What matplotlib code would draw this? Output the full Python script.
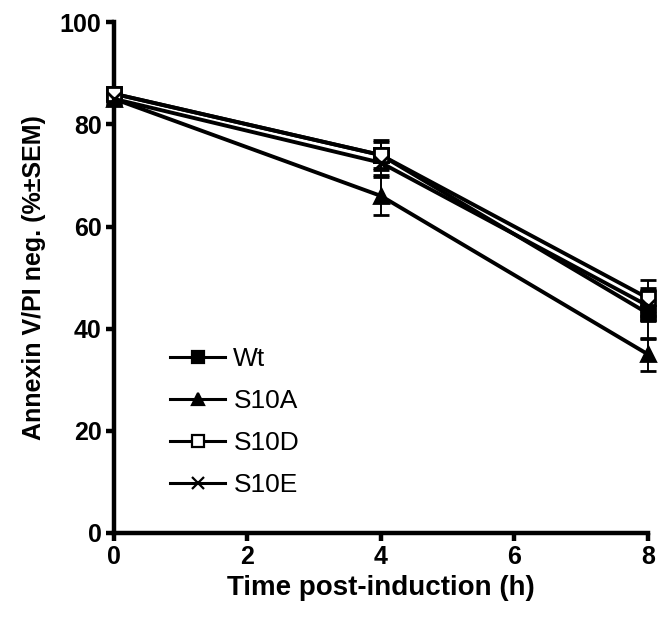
import matplotlib.pyplot as plt
from matplotlib.lines import Line2D

plt.rcParams['font.family'] = ['Liberation Sans', 'DejaVu Sans']

# time points (h)
time_h = [0, 4, 8]

# mean % Annexin V/PI negative and SEM
wt = [86, 74, 43]
wt_sem = [1.0, 2.5, 5.0]
s10a = [85, 66, 35]
s10a_sem = [1.0, 3.7, 3.2]
s10d = [86, 74, 46]
s10d_sem = [1.0, 3.0, 3.5]
s10e = [85, 72.5, 44.5]
s10e_sem = [1.0, 2.5, 3.0]

series = [
    ("Wt", wt, wt_sem, "s", "black"),
    ("S10A", s10a, s10a_sem, "^", "black"),
    ("S10D", s10d, s10d_sem, "s", "white"),
    ("S10E", s10e, s10e_sem, "x", "black"),
]

fig = plt.figure(figsize=(6.59, 6.19), dpi=100)
ax = fig.add_axes([0.173, 0.139, 0.810, 0.825])

handles = []
for name, vals, sem, mk, fc in series:
    ax.errorbar(time_h, vals, yerr=sem, color="black", lw=2.8, marker=mk,
                markersize=9.5, markerfacecolor=fc, markeredgecolor="black",
                markeredgewidth=2, ecolor="black", elinewidth=1.4,
                capsize=6, capthick=1.4, clip_on=False, zorder=3)
    handles.append(Line2D([], [], color="black", lw=2.2, marker=mk,
                          markersize=8, markerfacecolor=fc,
                          markeredgecolor="black", markeredgewidth=1.6,
                          label=name))

ax.set_xlim(0, 8)
ax.set_ylim(0, 100)
ax.set_xticks([0, 2, 4, 6, 8])
ax.set_yticks([0, 20, 40, 60, 80, 100])

for s in ["top", "right"]:
    ax.spines[s].set_visible(False)
for s in ["left", "bottom"]:
    ax.spines[s].set_linewidth(3.2)

ax.tick_params(width=3.2, length=6, labelsize=18, pad=3)
for lab in ax.get_xticklabels() + ax.get_yticklabels():
    lab.set_fontweight("bold")

ax.set_xlabel("Time post-induction (h)", fontsize=20, fontweight="bold", labelpad=4)
ax.set_ylabel("Annexin V/PI neg. (%\u00b1SEM)", fontsize=18, fontweight="bold", labelpad=10)

ax.legend(handles=handles, loc="lower left", bbox_to_anchor=(0.105, 0.07),
          frameon=False, fontsize=19, handlelength=2.1, handletextpad=0.3,
          labelspacing=0.68, borderpad=0, borderaxespad=0)

fig.savefig("out.png", dpi=100)
